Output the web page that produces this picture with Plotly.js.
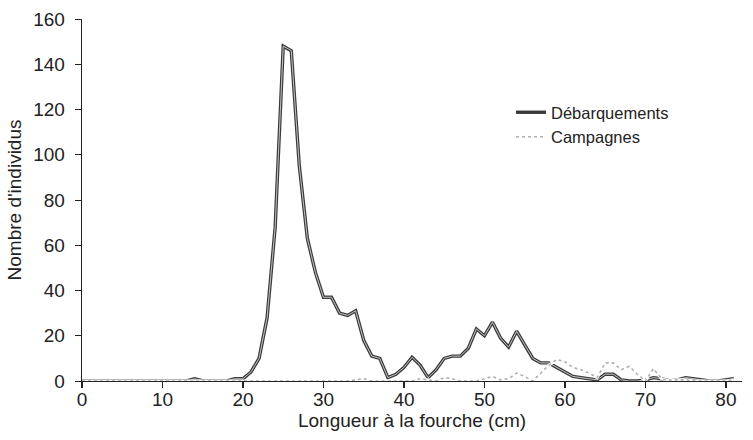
<!DOCTYPE html>
<html>
<head>
<meta charset="utf-8">
<script src="https://cdn.plot.ly/plotly-3.0.1.min.js"></script>
<style>html,body{margin:0;padding:0;background:#fff;}#chart{width:753px;height:440px;}</style>
</head>
<body>
<div id="chart"></div>
<script>
// Longueur à la fourche (cm)
var longueur = [];
for (var i = 0; i <= 81; i++) longueur.push(i);

var debarquements = [
  0,0,0,0,0,0,0,0,0,0,          // 0-9
  0,0,0,0,1,0,0,0,0,1,          // 10-19
  1,4,10,28,68,148,146,95,63,48, // 20-29
  37,37,30,29,31,18,11,10,1.5,3, // 30-39
  6,10.5,7,1.5,5,10,11,11,14.5,23, // 40-49
  20,26,19,15,22,16,10,8,8,6,    // 50-59
  4,2,1.5,1,0.5,3,3,0.5,0,0,     // 60-69
  0.5,1.5,1,0,0.5,1.5,1,0.5,0,0, // 70-79
  0.5,1                          // 80-81
];

var campagnes = [
  0,0,0,0,0,0,0,0,0,0,
  0,0,0,0,0,0,0,0,0,0,
  0,0,0,0,0,0,0,0,0,0,
  0,0,0,0,0.5,1,0,0,0,0,
  0,0,1,0.5,0,1.5,1,0,0,0,
  1,2,0.5,1,3.5,2,0,3.5,7,9.5,
  8.5,6,5,3.5,1.5,8,8,5,6.5,3,
  0,5.5,1,0,0.5,0.5,0,0,0,0,
  0,0.5
];

var xTicks = [0,10,20,30,40,50,60,70,80];
var yTicks = [0,20,40,60,80,100,120,140,160];

var FONT = "'Liberation Sans', Arial, sans-serif";

var traces = [
  {
    x: longueur, y: debarquements, type: 'scatter', mode: 'lines',
    name: 'Débarquements', legendgroup: 'd', line: {color: '#3a3a3a', width: 3.4},
    cliponaxis: false
  },
  {
    x: longueur, y: debarquements, type: 'scatter', mode: 'lines',
    name: 'Débarquements', legendgroup: 'd', showlegend: false, hoverinfo: 'skip',
    line: {color: '#c4c4c4', width: 1},
    cliponaxis: false
  },
  {
    x: longueur, y: campagnes, type: 'scatter', mode: 'lines',
    name: 'Campagnes', legendgroup: 'c', showlegend: false, hoverinfo: 'skip',
    line: {color: '#ffffff', width: 3},
    cliponaxis: false
  },
  {
    x: longueur, y: campagnes, type: 'scatter', mode: 'lines',
    name: 'Campagnes', legendgroup: 'c', line: {color: '#b0b0b0', width: 1.6, dash: 'dot'},
    cliponaxis: false
  }
];

var layout = {
  width: 753, height: 440,
  margin: {l: 82, r: 11, t: 19, b: 59},
  paper_bgcolor: '#fff', plot_bgcolor: '#fff',
  font: {family: FONT, size: 17, color: '#222'},
  showlegend: true,
  legend: {
    x: 0.65, y: 0.79, xanchor: 'left', yanchor: 'top',
    font: {family: FONT, size: 16.5, color: '#222'},
    traceorder: 'normal', tracegroupgap: 0,
    itemwidth: 30, bgcolor: 'rgba(0,0,0,0)'
  },
  xaxis: {
    range: [0, 82], tickvals: xTicks, ticktext: xTicks.map(String),
    showgrid: false, zeroline: false, showline: true, linecolor: '#222', linewidth: 1.2,
    layer: 'below traces',
    ticks: 'outside', ticklen: 6, tickwidth: 1.3, tickcolor: '#222',
    ticklabelstandoff: -5,
    tickfont: {family: FONT, size: 19, color: '#222'},
    title: {text: 'Longueur à la fourche (cm)', font: {family: FONT, size: 19, color: '#222'}, standoff: 2}
  },
  yaxis: {
    range: [0, 160], tickvals: yTicks, ticktext: yTicks.map(String),
    showgrid: false, zeroline: false, showline: true, linecolor: '#222', linewidth: 1.3,
    layer: 'below traces',
    ticks: 'outside', ticklen: 6, tickwidth: 1, tickcolor: '#222',
    ticklabelstandoff: 6,
    tickfont: {family: FONT, size: 19, color: '#222'},
    title: {text: "Nombre d'individus", font: {family: FONT, size: 19, color: '#222'}, standoff: 6}
  }
};

Plotly.newPlot('chart', traces, layout, {staticPlot: true, displayModeBar: false});
</script>
</body>
</html>
